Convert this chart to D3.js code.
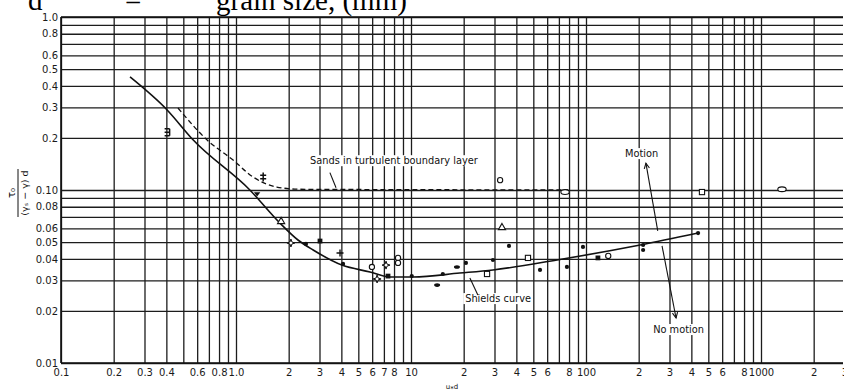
<!DOCTYPE html>
<html>
<head>
<meta charset="utf-8">
<script src="https://cdn.jsdelivr.net/npm/d3@7"></script>
<style>
  html, body { margin: 0; padding: 0; background: #fff; }
  svg { display: block; }
  .tick-label { font-family: "DejaVu Sans", sans-serif; font-size: 10px; fill: #1a1a1a; }
  .note { font-family: "DejaVu Sans", sans-serif; font-size: 9.8px; fill: #111; }
</style>
</head>
<body>
<svg id="chart" width="844" height="390"></svg>
<script>
// Shields diagram: dimensionless critical shear stress vs. boundary Reynolds number

// Axis ticks
const xGridValues = [0.1,0.2,0.3,0.4,0.5,0.6,0.7,0.8,0.9,
                     1,2,3,4,5,6,7,8,9,
                     10,20,30,40,50,60,70,80,90,
                     100,200,300,400,500,600,700,800,900,
                     1000,2000,3000];
const xTickValues = [0.1,0.2,0.3,0.4,0.6,0.8,1,2,3,4,5,6,7,8,10,20,30,40,50,60,80,100,200,300,400,500,600,800,1000,2000,3000];
const xTickLabels = ["0.1","0.2","0.3","0.4","0.6","0.8","1.0","2","3","4","5","6","7","8","10","2","3","4","5","6","8","100","2","3","4","5","6","8","1000","2","3"];
const yGridValues = [0.01,0.02,0.03,0.04,0.05,0.06,0.07,0.08,0.09,0.1,0.2,0.3,0.4,0.5,0.6,0.7,0.8,0.9,1.0];
const yTickValues = [0.01,0.02,0.03,0.04,0.05,0.06,0.08,0.1,0.2,0.3,0.4,0.5,0.6,0.8,1.0];
const yTickLabels = ["0.01","0.02","0.03","0.04","0.05","0.06","0.08","0.10","0.2","0.3","0.4","0.5","0.6","0.8","1.0"];

// Shields curve
const shieldsRe  = [0.248,0.404,0.568,1.2,1.78,2.26,2.76,4.03,5.83,7.59,10.3,19,29.4,68.3,204,437];
const shieldsTau = [0.45,0.29,0.195,0.1,0.0645,0.0514,0.045,0.0368,0.0336,0.0314,0.0314,0.0331,0.0345,0.0394,0.0481,0.0564];

// Sands in turbulent boundary layer (dashed)
const sandsRe  = [0.466,0.682,0.962,1.25,1.71,2.32,8.65,79];
const sandsTau = [0.298,0.195,0.149,0.119,0.104,0.101,0.1005,0.1];

// Experimental points
const pointRe  = [0.404,1.43,1.32,1.81,2.06,2.51,3.02,3.93,4.09,5.98,6.4,7.2,7.39,8.43,8.43,10.1,14.1,15.2,18.3,20.6,27.2,29.4,32.3,33.1,36.3,46.6,54.6,77.8,75.9,96.1,117,134,212,212,437,460,1318];
const pointTau = [0.216,0.119,0.0948,0.0662,0.0494,0.0488,0.0507,0.0432,0.0374,0.0359,0.0306,0.0368,0.0318,0.0405,0.0379,0.0318,0.0282,0.0327,0.0359,0.0379,0.0327,0.0394,0.114,0.0611,0.0475,0.0405,0.0345,0.0359,0.0973,0.0469,0.0405,0.0416,0.0481,0.045,0.0564,0.0973,0.101];
const pointSymbol = ["bars","dblcross","triangleFilled","triangle","star4","dot","squareFilled","plus","dot","circle","star4","star4","squareFilled","circle","circle","dot","ellipseFilled","dot","ellipseFilled","dot","square","dot","circle","triangle","dot","square","dot","dot","ellipse","dot","squareFilled","circle","dot","dot","dot","square","ellipse"];

const svg = d3.select("#chart");
const W = 844, H = 390;
const plotLeft = 61, plotTop = 17, plotBottom = 363;
const decade = 175;

const x = d3.scaleLog().domain([0.1, 3000]).range([plotLeft, plotLeft + decade * Math.log10(30000)]);
const y = d3.scaleLog().domain([0.01, 1]).range([plotBottom, plotTop]);
const plotRight = W - 1;

// Clip for plot area
svg.append("defs").append("clipPath").attr("id", "plot")
  .append("rect").attr("x", plotLeft - 1).attr("y", plotTop - 1).attr("width", plotRight - plotLeft + 2).attr("height", plotBottom - plotTop + 2);

// Grid lines via axes
const gridX = svg.append("g").attr("clip-path", "url(#plot)")
  .append("g").attr("transform", `translate(0,${plotBottom})`)
  .call(d3.axisBottom(x).tickValues(xGridValues).tickFormat("").tickSize(-(plotBottom - plotTop)).tickSizeOuter(0));
gridX.select(".domain").remove();
gridX.selectAll(".tick line").attr("stroke", "#1c1c1c").attr("stroke-width", 1.3);

const gridY = svg.append("g").attr("transform", `translate(${plotLeft},0)`)
  .call(d3.axisLeft(y).tickValues(yGridValues).tickFormat("").tickSize(-(plotRight - plotLeft)).tickSizeOuter(0));
gridY.select(".domain").remove();
gridY.selectAll(".tick line").attr("stroke", "#1c1c1c").attr("stroke-width", 1.3);

// Frame lines
svg.append("line").attr("x1", plotLeft).attr("x2", plotLeft).attr("y1", plotTop).attr("y2", plotBottom)
  .attr("stroke", "#111").attr("stroke-width", 1.6);
svg.append("line").attr("x1", plotLeft).attr("x2", plotRight).attr("y1", plotTop).attr("y2", plotTop)
  .attr("stroke", "#111").attr("stroke-width", 1.6);
svg.append("line").attr("x1", plotLeft).attr("x2", plotRight).attr("y1", plotBottom).attr("y2", plotBottom)
  .attr("stroke", "#111").attr("stroke-width", 1.6);

// Tick labels
const xLab = svg.append("g").attr("transform", `translate(0,${plotBottom})`)
  .call(d3.axisBottom(x).tickValues(xTickValues).tickFormat((d, i) => xTickLabels[i]).tickSize(0).tickPadding(6));
xLab.select(".domain").remove();
xLab.selectAll("text").attr("class", "tick-label").attr("font-family", null).attr("font-size", null);

const yLab = svg.append("g").attr("transform", `translate(${plotLeft},0)`)
  .call(d3.axisLeft(y).tickValues(yTickValues).tickFormat((d, i) => yTickLabels[i]).tickSize(0).tickPadding(3));
yLab.select(".domain").remove();
yLab.selectAll("text").attr("class", "tick-label").attr("font-family", null).attr("font-size", null);

// Curves
const line = d3.line().x(d => x(d[0])).y(d => y(d[1])).curve(d3.curveMonotoneX);
svg.append("path").datum(shieldsRe.map((r, i) => [r, shieldsTau[i]]))
  .attr("d", line).attr("fill", "none").attr("stroke", "#111").attr("stroke-width", 1.6);
svg.append("path").datum(sandsRe.map((r, i) => [r, sandsTau[i]]))
  .attr("d", line).attr("fill", "none").attr("stroke", "#111").attr("stroke-width", 1.3)
  .attr("stroke-dasharray", "5,3");

// Symbols
function drawSymbol(g, kind) {
  const stroke = "#111";
  switch (kind) {
    case "dot":
      g.append("circle").attr("r", 2.1).attr("fill", stroke); break;
    case "circle":
      g.append("circle").attr("r", 2.6).attr("fill", "#fff").attr("stroke", stroke).attr("stroke-width", 1.1); break;
    case "square":
      g.append("rect").attr("x", -2.6).attr("y", -2.6).attr("width", 5.2).attr("height", 5.2)
        .attr("fill", "#fff").attr("stroke", stroke).attr("stroke-width", 1.1); break;
    case "squareFilled":
      g.append("rect").attr("x", -2.4).attr("y", -2.4).attr("width", 4.8).attr("height", 4.8).attr("fill", stroke); break;
    case "triangle":
      g.append("path").attr("d", "M0,-3.6L3.6,2.6L-3.6,2.6Z").attr("fill", "#fff").attr("stroke", stroke).attr("stroke-width", 1.1); break;
    case "triangleFilled":
      g.append("path").attr("d", "M-3.2,-1.8L3.2,-1.8L0,2.6Z").attr("fill", stroke); break;
    case "star4":
      g.append("path").attr("d", "M0,-4L1,-1L4,0L1,1L0,4L-1,1L-4,0L-1,-1Z")
        .attr("fill", "#fff").attr("stroke", stroke).attr("stroke-width", 1); break;
    case "plus":
      g.append("path").attr("d", "M-3.5,0H3.5M0,-3.5V3.5").attr("stroke", stroke).attr("stroke-width", 1.4); break;
    case "dblcross":
      g.append("path").attr("d", "M0,-4.5V4.5M-3,-1.8H3M-3,1.8H3").attr("stroke", stroke).attr("stroke-width", 1.5); break;
    case "bars":
      g.append("path").attr("d", "M-2.5,-3.5H2.5M-2.5,0H2.5M-2.5,3.5H2.5M2.5,-3.5V3.5").attr("stroke", stroke).attr("stroke-width", 1.5).attr("fill", "none"); break;
    case "ellipse":
      g.append("ellipse").attr("rx", 4.2).attr("ry", 2.4).attr("fill", "#fff").attr("stroke", stroke).attr("stroke-width", 1.1); break;
    case "ellipseFilled":
      g.append("ellipse").attr("rx", 3).attr("ry", 1.8).attr("fill", stroke); break;
  }
}
const pts = svg.append("g");
pointRe.forEach((r, i) => {
  const g = pts.append("g").attr("transform", `translate(${x(r)},${y(pointTau[i])})`);
  drawSymbol(g, pointSymbol[i]);
});

// Annotations (positions in data units)
const notes = svg.append("g");
function note(text, re, tau) {
  const t = notes.append("text").attr("class", "note").attr("x", x(re)).attr("y", y(tau)).text(text);
  const b = t.node().getBBox();
  notes.insert("rect", "text").attr("x", b.x - 2).attr("y", b.y).attr("width", b.width + 4).attr("height", b.height).attr("fill", "#fff");
  return t;
}
function leader(re1, tau1, re2, tau2) {
  notes.append("line").attr("x1", x(re1)).attr("y1", y(tau1)).attr("x2", x(re2)).attr("y2", y(tau2))
    .attr("stroke", "#111").attr("stroke-width", 1.1);
}
function arrowHead(re1, tau1, re2, tau2) {
  const x1 = x(re1), y1 = y(tau1), x2 = x(re2), y2 = y(tau2);
  const a = Math.atan2(y2 - y1, x2 - x1), L = 6, s = 0.45;
  const p = [[x2 - L * Math.cos(a - s), y2 - L * Math.sin(a - s)], [x2, y2], [x2 - L * Math.cos(a + s), y2 - L * Math.sin(a + s)]];
  notes.append("path").attr("d", d3.line()(p)).attr("fill", "none").attr("stroke", "#111").attr("stroke-width", 1.1);
}
note("Sands in turbulent boundary layer", 2.65, 0.141);
leader(3.44, 0.126, 3.73, 0.103);
note("Shields curve", 20.4, 0.0225);
leader(24.1, 0.0247, 21.7, 0.031);
note("Motion", 167, 0.155);
leader(257, 0.058, 220, 0.143);
arrowHead(257, 0.058, 220, 0.143);
note("No motion", 242, 0.0149);
leader(272, 0.0475, 327, 0.0182);
arrowHead(272, 0.0475, 327, 0.0182);

// Axis titles
const yt = svg.append("g").attr("transform", "translate(18,193) rotate(-90)")
  .attr("font-family", "DejaVu Sans, sans-serif").attr("fill", "#111");
yt.append("text").attr("x", 0).attr("y", -3).attr("text-anchor", "middle").attr("font-size", 10).text("τ₀");
yt.append("line").attr("x1", -24).attr("x2", 24).attr("y1", 0).attr("y2", 0).attr("stroke", "#111").attr("stroke-width", 1);
yt.append("text").attr("x", 0).attr("y", 9.5).attr("text-anchor", "middle").attr("font-size", 9.5).text("(γₛ − γ) d");

svg.append("text").attr("x", 452).attr("y", 389).attr("text-anchor", "middle")
  .attr("font-family", "DejaVu Sans, sans-serif").attr("font-size", 7).attr("fill", "#111").text("u⁎d");

// Caption line above the chart
const cap = svg.append("g").attr("font-family", "Liberation Serif, serif").attr("font-size", 29).attr("fill", "#000");
cap.append("text").attr("x", 28).attr("y", 9.5).text("d");
cap.append("text").attr("x", 125).attr("y", 9.5).text("=");
cap.append("text").attr("x", 216).attr("y", 9.5).text("grain size, (mm)");
</script>
</body>
</html>
